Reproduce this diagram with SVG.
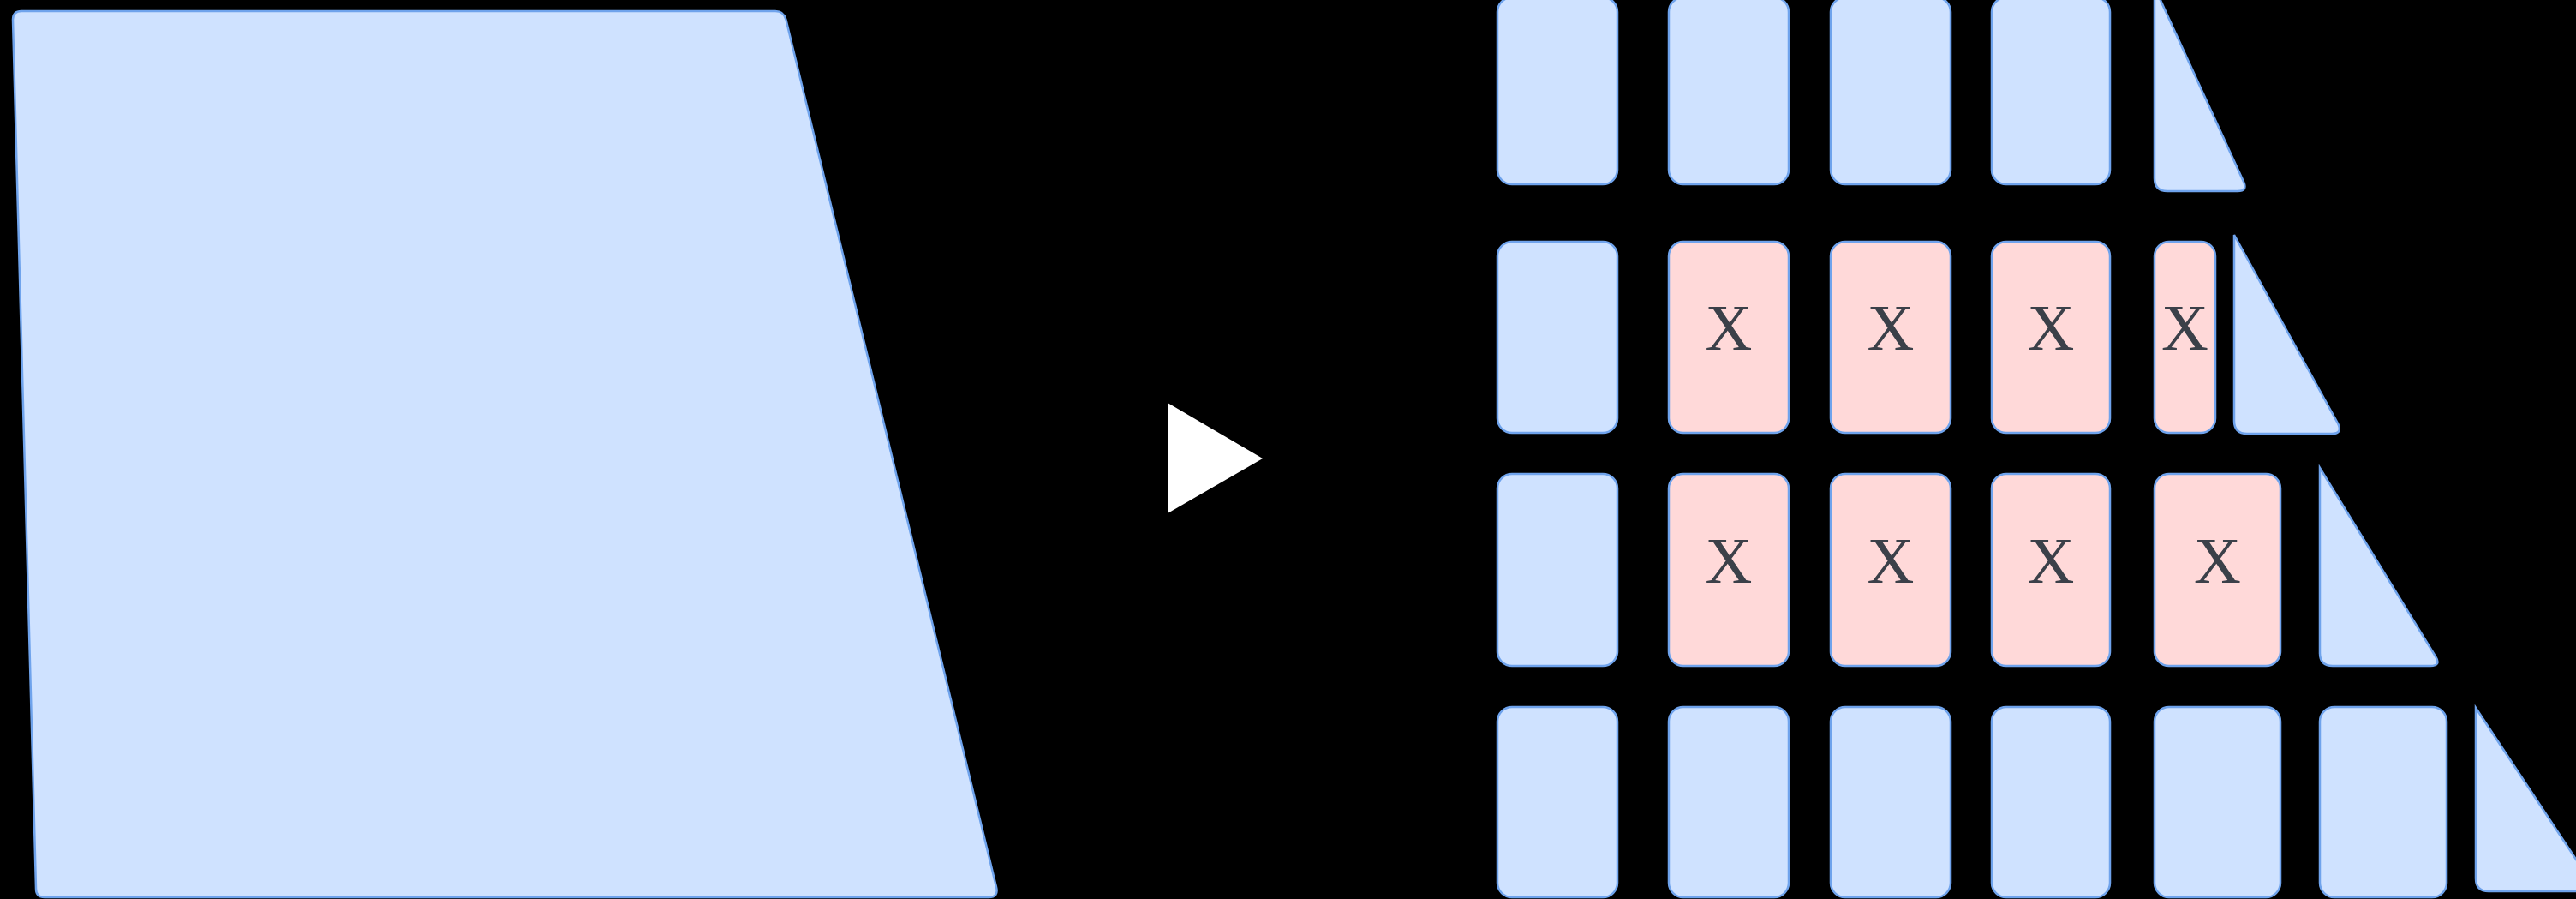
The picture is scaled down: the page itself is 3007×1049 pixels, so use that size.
<svg xmlns="http://www.w3.org/2000/svg" width="3007" height="1049" viewBox="0 0 3007 1049">
<style>
.b{fill:#cfe2ff;stroke:#6fa3ec;stroke-width:2.5}
.p{fill:#ffd9d9;stroke:#6fa3ec;stroke-width:2.5}
.x{font-family:"Liberation Serif","Times New Roman",serif;font-size:76px;fill:#3b4049;text-anchor:middle}
</style>
<rect x="0" y="0" width="3007" height="1049" fill="#000000"/>
<g id="source">
<path class="b" d="M15,23 Q15,13 25,13 L905,13 Q915,13 917.5,23 L1163,1035 Q1166,1047 1154,1047 L52,1047 Q42,1047 42,1037 Z"/>
</g>
<g id="connectors">
<polygon points="1363,470 1363,599 1474,535" fill="#ffffff"/>
</g>
<g id="row1">
<rect class="b" x="1748" y="-3" width="140" height="218" rx="17"/>
<rect class="b" x="1948" y="-3" width="140" height="218" rx="17"/>
<rect class="b" x="2137" y="-3" width="140" height="218" rx="17"/>
<rect class="b" x="2325" y="-3" width="138" height="218" rx="17"/>
<path class="b" d="M2515,-15 L2515,208 Q2515,223 2530,223 L2612,223 Q2624,223 2619,212 Z"/>
</g>
<g id="row2">
<rect class="b" x="1748" y="282" width="140" height="223" rx="17"/>
<rect class="p" x="1948" y="282" width="140" height="223" rx="17"/>
<text class="x" x="2018" y="408">X</text>
<rect class="p" x="2137" y="282" width="140" height="223" rx="17"/>
<text class="x" x="2207" y="408">X</text>
<rect class="p" x="2325" y="282" width="138" height="223" rx="17"/>
<text class="x" x="2394" y="408">X</text>
<rect class="p" x="2515" y="282" width="71" height="223" rx="17"/>
<text class="x" x="2550.5" y="408">X</text>
<path class="b" d="M2608,274 L2608,491 Q2608,506 2623,506 L2722,506 Q2735,506 2729,494 Z"/>
</g>
<g id="row3">
<rect class="b" x="1748" y="553" width="140" height="224" rx="17"/>
<rect class="p" x="1948" y="553" width="140" height="224" rx="17"/>
<text class="x" x="2018" y="680">X</text>
<rect class="p" x="2137" y="553" width="140" height="224" rx="17"/>
<text class="x" x="2207" y="680">X</text>
<rect class="p" x="2325" y="553" width="138" height="224" rx="17"/>
<text class="x" x="2394" y="680">X</text>
<rect class="p" x="2515" y="553" width="147" height="224" rx="17"/>
<text class="x" x="2588.5" y="680">X</text>
<path class="b" d="M2708,546 L2708,762 Q2708,777 2723,777 L2837,777 Q2850,777 2843,766 Z"/>
</g>
<g id="row4">
<rect class="b" x="1748" y="825" width="140" height="222" rx="17"/>
<rect class="b" x="1948" y="825" width="140" height="222" rx="17"/>
<rect class="b" x="2137" y="825" width="140" height="222" rx="17"/>
<rect class="b" x="2325" y="825" width="138" height="222" rx="17"/>
<rect class="b" x="2515" y="825" width="147" height="222" rx="17"/>
<rect class="b" x="2708" y="825" width="148" height="222" rx="17"/>
<path class="b" d="M2890,826 L2890,1025 Q2890,1040 2905,1040 L3020,1040 Q3032,1040 3025,1030 Z"/>
</g>
</svg>
